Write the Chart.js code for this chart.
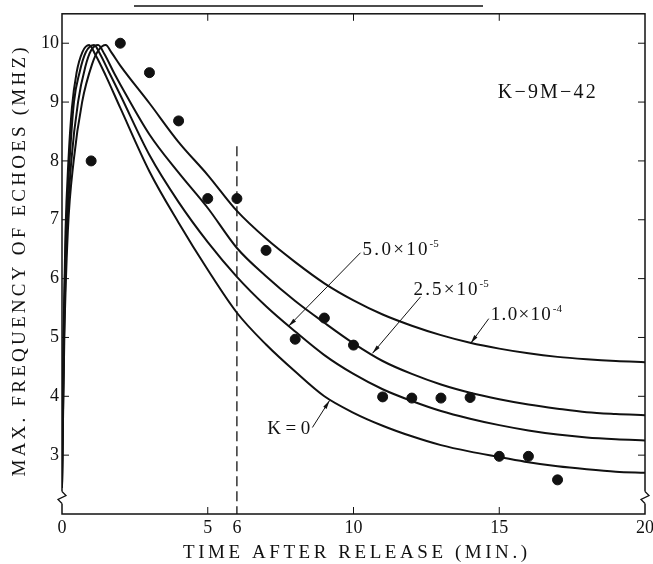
<!DOCTYPE html>
<html>
<head>
<meta charset="utf-8">
<script src="https://cdn.jsdelivr.net/npm/chart.js@4"></script>
<style>
  html, body { margin: 0; padding: 0; background: #fff; }
</style>
</head>
<body>
<canvas id="chart" width="653" height="564"></canvas>
<script>
// observed echo maxima (dots)
const obsTime = [1, 2, 3, 4, 5, 6, 7, 8, 9, 10, 11, 12, 13, 14, 15, 16, 17];
const obsFreq = [8.0, 10.0, 9.5, 8.68, 7.36, 7.36, 6.48, 4.97, 5.33, 4.87, 3.99, 3.97, 3.97, 3.98, 2.98, 2.98, 2.58];

// computed curves
const k1e4Time = [0, 0.08, 0.2, 0.4, 0.69, 1.03, 1.25, 1.5, 1.7, 2, 3, 4, 5, 6, 7, 8, 9, 10, 11, 12, 13, 14, 15, 16, 17, 18, 19, 20];
const k1e4Freq = [2.45, 5, 6.8, 8, 9, 9.64, 9.88, 9.97, 9.84, 9.62, 8.98, 8.32, 7.76, 7.15, 6.68, 6.28, 5.92, 5.63, 5.39, 5.2, 5.04, 4.91, 4.81, 4.73, 4.67, 4.63, 4.6, 4.58];

const k25Time = [0, 0.07, 0.17, 0.32, 0.55, 0.8, 1.0, 1.24, 1.45, 1.8, 2, 3, 4, 5, 6, 7, 8, 9, 10, 11, 12, 13, 14, 15, 16, 17, 18, 19, 20];
const k25Freq = [2.45, 5, 6.8, 8, 9, 9.6, 9.88, 9.97, 9.82, 9.48, 9.3, 8.45, 7.8, 7.2, 6.52, 6.04, 5.62, 5.25, 4.9, 4.6, 4.38, 4.2, 4.06, 3.95, 3.86, 3.79, 3.73, 3.7, 3.68];

const k50Time = [0, 0.06, 0.14, 0.26, 0.41, 0.6, 0.82, 1.1, 1.3, 1.6, 2, 3, 4, 5, 6, 7, 8, 9, 10, 11, 12, 13, 14, 15, 16, 17, 18, 19, 20];
const k50Freq = [2.45, 5, 6.8, 8, 9, 9.5, 9.85, 9.97, 9.82, 9.52, 9.12, 8.1, 7.3, 6.62, 6.03, 5.53, 5.1, 4.7, 4.38, 4.12, 3.92, 3.75, 3.62, 3.51, 3.42, 3.35, 3.3, 3.27, 3.25];

const k0Time = [0, 0.05, 0.12, 0.22, 0.34, 0.5, 0.7, 0.93, 1.15, 1.5, 2, 3, 4, 5, 6, 7, 8, 9, 10, 11, 12, 13, 14, 15, 16, 17, 18, 19, 20];
const k0Freq = [2.45, 5, 6.8, 8, 8.9, 9.5, 9.85, 9.97, 9.8, 9.45, 8.9, 7.82, 6.95, 6.15, 5.42, 4.88, 4.42, 4.0, 3.72, 3.5, 3.32, 3.17, 3.06, 2.97, 2.88, 2.81, 2.76, 2.72, 2.7];

const xTickLabels = [0, 5, 6, 10, 15, 20];
const yTickLabels = [3, 4, 5, 6, 7, 8, 9, 10];
const markTime = 6;      // dashed line
const markTop = 8.25;

const serif = '"Liberation Serif", "DejaVu Serif", serif';
const ink = '#111';

function pts(xs, ys) {
    return xs.map((v, i) => ({ x: v, y: ys[i] }));
}

function curve(xs, ys) {
    return {
        data: pts(xs, ys),
        showLine: true,
        borderColor: ink,
        borderWidth: 2,
        pointRadius: 0,
        cubicInterpolationMode: 'monotone',
        order: 2
    };
}

// text with extra letter spacing so that it fills a given width
function spaced(ctx, text, x, y, width, font, align) {
    ctx.font = font;
    ctx.letterSpacing = '0px';
    const w = ctx.measureText(text).width;
    const n = [...text].length;
    const sp = n > 1 ? (width - w) / (n - 1) : 0;
    ctx.letterSpacing = sp.toFixed(2) + 'px';
    ctx.textAlign = 'left';
    ctx.fillText(text, align === 'center' ? x - width / 2 : x, y);
    ctx.letterSpacing = '0px';
}

function arrow(ctx, x1, y1, x2, y2) {
    ctx.lineWidth = 1;
    ctx.beginPath();
    ctx.moveTo(x1, y1);
    ctx.lineTo(x2, y2);
    ctx.stroke();
    const a = Math.atan2(y2 - y1, x2 - x1);
    ctx.beginPath();
    ctx.moveTo(x2, y2);
    ctx.lineTo(x2 - 9 * Math.cos(a - 0.22), y2 - 9 * Math.sin(a - 0.22));
    ctx.lineTo(x2 - 9 * Math.cos(a + 0.22), y2 - 9 * Math.sin(a + 0.22));
    ctx.closePath();
    ctx.fill();
}

// label text (data units for anchor), arrow from -> to
const curveLabels = [
    { text: '5.0×10', sup: '-5', at: [10.31, 6.40], width: 65, from: [10.24, 6.44], to: [7.77, 5.19] },
    { text: '2.5×10', sup: '-5', at: [12.06, 5.72], width: 64, from: [12.3, 5.69], to: [10.65, 4.73] },
    { text: '1.0×10', sup: '-4', at: [14.71, 5.30], width: 60, from: [14.64, 5.32], to: [14.02, 4.9] },
    { text: 'K=0', sup: '', at: [7.04, 3.36], width: 43, from: [8.59, 3.47], to: [9.18, 3.93] }
];

function breakMark(ctx, px, py) {
    ctx.fillStyle = '#fff';
    ctx.fillRect(px - 6, py - 6, 12, 12);
    ctx.fillStyle = ink;
    ctx.lineWidth = 1.3;
    ctx.beginPath();
    ctx.moveTo(px, py + 6);
    ctx.lineTo(px - 4, py + 2);
    ctx.lineTo(px + 4, py - 2);
    ctx.lineTo(px, py - 6);
    ctx.stroke();
}

const frame = {
    id: 'frame',
    afterDraw(chart) {
        const { ctx, chartArea: a, scales: { x, y } } = chart;
        ctx.save();
        ctx.strokeStyle = ink;
        ctx.fillStyle = ink;

        // axis box
        ctx.lineWidth = 1.5;
        ctx.strokeRect(a.left, a.top, a.right - a.left, a.bottom - a.top);

        // inward ticks
        ctx.lineWidth = 1;
        ctx.beginPath();
        for (const v of [5, 10, 15]) {
            const px = x.getPixelForValue(v);
            ctx.moveTo(px, a.bottom); ctx.lineTo(px, a.bottom - 7);
            ctx.moveTo(px, a.top); ctx.lineTo(px, a.top + 7);
        }
        for (const v of yTickLabels) {
            const py = y.getPixelForValue(v);
            ctx.moveTo(a.left, py); ctx.lineTo(a.left + 7, py);
            ctx.moveTo(a.right, py); ctx.lineTo(a.right - 7, py);
        }
        ctx.stroke();

        // axis breaks
        const by = y.getPixelForValue(2.28);
        breakMark(ctx, a.left, by);
        breakMark(ctx, a.right, by);

        // axis titles
        ctx.textBaseline = 'middle';
        spaced(ctx, 'TIME AFTER RELEASE (MIN.)', 355, 553, 344, '19px ' + serif, 'center');
        ctx.save();
        ctx.translate(20, 262);
        ctx.rotate(-Math.PI / 2);
        spaced(ctx, 'MAX. FREQUENCY OF ECHOES (MHZ)', 0, 0, 429, '19px ' + serif, 'center');
        ctx.restore();

        // run name
        ctx.textBaseline = 'alphabetic';
        spaced(ctx, 'K−9M−42', x.getPixelForValue(14.95), y.getPixelForValue(9.07), 98, '20px ' + serif, 'left');

        // curve labels with arrows
        for (const l of curveLabels) {
            const lx = x.getPixelForValue(l.at[0]);
            const ly = y.getPixelForValue(l.at[1]);
            spaced(ctx, l.text, lx, ly, l.width, '19px ' + serif, 'left');
            if (l.sup) {
                ctx.font = '11px ' + serif;
                ctx.fillText(l.sup, lx + l.width + 2, ly - 8);
            }
            arrow(ctx, x.getPixelForValue(l.from[0]), y.getPixelForValue(l.from[1]),
                x.getPixelForValue(l.to[0]), y.getPixelForValue(l.to[1]));
        }

        // underline left from the cropped page heading
        ctx.lineWidth = 1.5;
        ctx.beginPath();
        ctx.moveTo(134, 6);
        ctx.lineTo(483, 6);
        ctx.stroke();
        ctx.restore();
    }
};

new Chart(document.getElementById('chart'), {
    type: 'scatter',
    data: {
        datasets: [
            curve(k1e4Time, k1e4Freq),
            curve(k25Time, k25Freq),
            curve(k50Time, k50Freq),
            curve(k0Time, k0Freq),
            {
                data: [{ x: markTime, y: markTop }, { x: markTime, y: 2 }],
                showLine: true,
                borderColor: ink,
                borderWidth: 1.3,
                borderDash: [10, 5],
                pointRadius: 0,
                order: 3
            },
            {
                data: pts(obsTime, obsFreq),
                backgroundColor: ink,
                borderColor: ink,
                pointRadius: 5,
                showLine: false,
                order: 1
            }
        ]
    },
    options: {
        responsive: false,
        animation: false,
        layout: { padding: { top: 13, right: 8, left: 0, bottom: 0 } },
        plugins: { legend: { display: false }, tooltip: { enabled: false } },
        scales: {
            x: {
                type: 'linear',
                min: 0,
                max: 20,
                afterBuildTicks: s => { s.ticks = xTickLabels.map(v => ({ value: v })); },
                afterFit: s => { s.height = 50; s.paddingRight = 0; s.paddingLeft = 0; },
                grid: { display: false, drawTicks: false },
                border: { display: false },
                ticks: { autoSkip: false, maxRotation: 0, padding: 3, color: ink, font: { family: serif, size: 18 } }
            },
            y: {
                type: 'linear',
                min: 2,
                max: 10.5,
                afterBuildTicks: s => { s.ticks = yTickLabels.map(v => ({ value: v })); },
                afterFit: s => { s.width = 62; },
                grid: { display: false, drawTicks: false },
                border: { display: false },
                ticks: { padding: 3, color: ink, font: { family: serif, size: 18 } }
            }
        }
    },
    plugins: [frame]
});
</script>
</body>
</html>
